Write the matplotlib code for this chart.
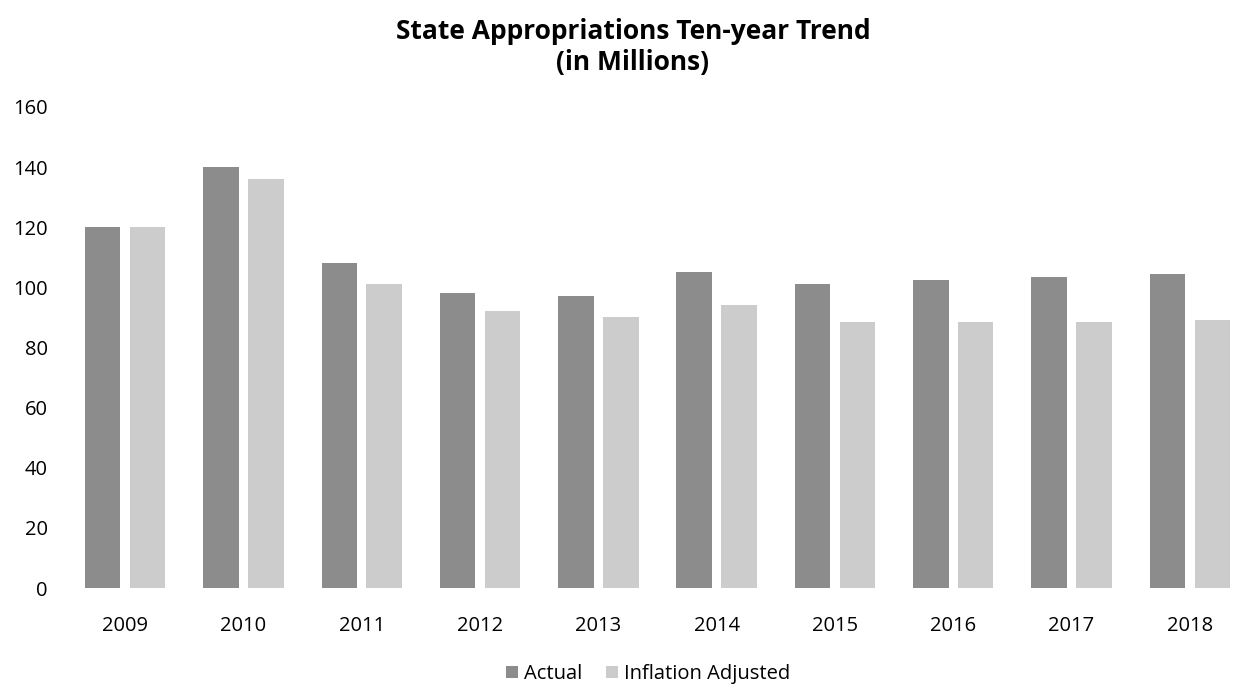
#!/usr/bin/env python3
"""Grouped bars: state appropriations ten-year trend, actual vs inflation adjusted."""

import numpy as np
import matplotlib
matplotlib.use("Agg")
import matplotlib.pyplot as plt

YEARS = ["2009", "2010", "2011", "2012", "2013", "2014", "2015", "2016", "2017", "2018"]
ACTUAL = [120, 140, 108, 98, 97, 105, 101, 102.5, 103.5, 104.5]
INFLATION_ADJ = [120, 136, 101, 92, 90, 94, 88.5, 88.5, 88.5, 89.2]
YTICKS = [0, 20, 40, 60, 80, 100, 120, 140, 160]

plt.rcParams["font.family"] = ["Open Sans", "DejaVu Sans"]

W, H = 1236, 686


def main():
    fig = plt.figure(figsize=(W / 100, H / 100), dpi=100)
    ax = fig.add_axes([66 / W, 98 / H, (1249 - 66) / W, 481 / H])

    x = np.arange(len(YEARS))
    width = 0.30
    off = 0.19
    ax.bar(x - off, ACTUAL, width, color="#8c8c8c", label="Actual")
    ax.bar(x + off, INFLATION_ADJ, width, color="#cccccc", label="Inflation Adjusted")

    ax.set_xlim(-0.5, len(YEARS) - 0.5)
    ax.set_ylim(0, 160)
    ax.set_yticks(YTICKS)
    ax.set_yticklabels([str(t) for t in YTICKS], fontsize=14.5)
    ax.set_xticks(x)
    ax.set_xticklabels(YEARS, fontsize=14.5)
    ax.tick_params(length=0)
    ax.tick_params(axis="x", pad=20)
    ax.tick_params(axis="y", pad=13)
    for s in ax.spines.values():
        s.set_visible(False)

    fig.text(633 / W, 1 - 47 / H, "State Appropriations Ten-year Trend\n(in Millions)",
             ha="center", va="center", fontsize=19, fontweight="bold", linespacing=1.15)

    fig.legend(loc="center", bbox_to_anchor=(648 / W, 1 - 674 / H), ncol=2,
               frameon=False, fontsize=14.5, handlelength=0.6, handleheight=0.6,
               handletextpad=0.3, columnspacing=1.2)

    fig.savefig("out.png", dpi=100)


if __name__ == "__main__":
    main()
